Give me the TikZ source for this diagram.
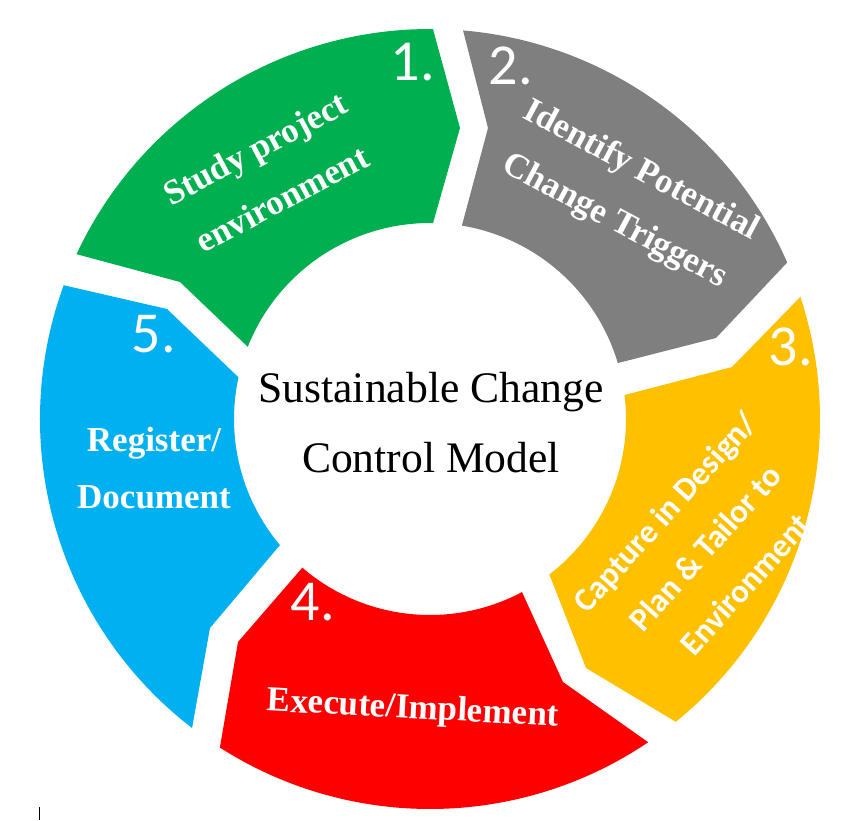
\documentclass[tikz,border=0pt]{standalone}
\usepackage{fontspec}
\setmainfont{Liberation Serif}
\newfontfamily\numfont{Carlito}
\usetikzlibrary{calc}
\definecolor{cgreen}{HTML}{00B050}
\definecolor{cgray}{HTML}{7F7F7F}
\definecolor{cyellow}{HTML}{FFC000}
\definecolor{cred}{HTML}{FF0000}
\definecolor{cblue}{HTML}{00B0F0}
\def\Rout{390}
\def\Rin{196}
% filled ring segment: colour, outer start, outer end, tip, inner end, inner start, notch
\newcommand{\ringseg}[7]{%
  \fill[#1] ($(c)+(#2:\Rout)$) arc[start angle=#2, end angle=#3, radius=\Rout]
    -- (#4) -- ($(c)+(#5:\Rin)$) arc[start angle=#5, end angle=#6, radius=\Rin]
    -- (#7) -- cycle;}
\tikzset{
  lbl/.style={text=white, align=center, inner sep=0pt, font=\bfseries\fontsize{35}{57}\selectfont},
  num/.style={text=white, inner sep=0pt, font=\numfont\fontsize{58}{60}\selectfont},
  ttl/.style={align=center, inner sep=0pt, font=\fontsize{43.6}{70}\selectfont}
}
\begin{document}
\begin{tikzpicture}[x=1pt,y=1pt]
\useasboundingbox (0,0) rectangle (852,-820);
\coordinate (c) at (430,-419);
% segments
\ringseg{cgreen}{155.0}{89.56}{460,-128}{89.1}{158.4}{180,-282}
\ringseg{cgray}{85.14}{23.66}{716,-338}{16.59}{80.63}{488,-128}
\ringseg{cyellow}{18.25}{-50.93}{586,-668}{-52.49}{7.02}{732,-367}
\ringseg{cred}{-55.98}{-122.6}{238,-642}{-130.66}{-62.0}{563,-682}
\ringseg{cblue}{232.4}{159.94}{167,-309}{167.72}{220.03}{210,-628}
% numbers
\node[num] (n1) at (413,-62) {1.};
\node[num] (n2) at (511,-66) {2.};
\node[num] (n3) at (791,-347) {3.};
\node[num] (n4) at (313,-602) {4.};
\node[num] (n5) at (154,-334) {5.};
% labels
\node[lbl, rotate=28] (t1) at (268.5,-173.5) {Study project\\environment};
\node[lbl, rotate=-28] (t2) at (627.5,-196.5) {Identify Potential\\Change Triggers};
\node[lbl, rotate=48, font=\numfont\bfseries\fontsize{33}{54}\selectfont] (t3) at (705,-548) {Capture in Design/\\Plan \& Tailor to\\Environment};
\node[lbl, rotate=-3] (t4) at (413,-710) {Execute/Implement};
\node[lbl] (t5) at (154,-468) {Register/\\Document};
% title
\node[ttl, text=black] (title) at (431,-423) {Sustainable Change\\Control Model};
% stray mark
\draw[line width=0.8pt] (39,-807) -- (39,-820);
\end{tikzpicture}
\end{document}
